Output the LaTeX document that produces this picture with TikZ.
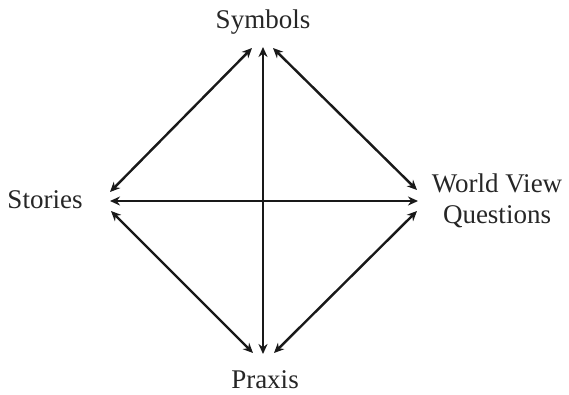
\documentclass[tikz,border=0pt]{standalone}
\usepackage{fontspec}
\setmainfont{Liberation Serif}
\usetikzlibrary{arrows.meta}
\begin{document}
\begin{tikzpicture}[x=1pt,y=-1pt,
  lbl/.style={font=\fontsize{27}{31}\selectfont, inner sep=0pt, text=black!85},
  link/.style={line width=2.4pt, draw=black!90, {Stealth[length=10pt,width=9pt]}-{Stealth[length=10pt,width=9pt]}}]
\useasboundingbox (0,0) rectangle (569,394);
\node[lbl, anchor=base] (sym) at (263,28) {Symbols};
\node[lbl, anchor=base] (sto) at (45,208) {Stories};
\node[lbl, anchor=base, align=center] (wvq) at (497,223) {World View\\Questions};
\node[lbl, anchor=base] (pra) at (265,388) {Praxis};
% arrow end points
\coordinate (tl) at (252,48);
\coordinate (tm) at (263,47);
\coordinate (tr) at (273,48);
\coordinate (lu) at (110,192);
\coordinate (lm) at (110,201);
\coordinate (ld) at (111,211);
\coordinate (ru) at (417,190);
\coordinate (rm) at (418,201);
\coordinate (rd) at (417,211);
\coordinate (bl) at (253,353);
\coordinate (bm) at (263,354);
\coordinate (br) at (274,353);
\draw[link] (tl) -- (lu);
\draw[link] (tr) -- (ru);
\draw[link] (ld) -- (bl);
\draw[link] (rd) -- (br);
\draw[link] (tm) -- (bm);
\draw[link] (lm) -- (rm);
\end{tikzpicture}
\end{document}
